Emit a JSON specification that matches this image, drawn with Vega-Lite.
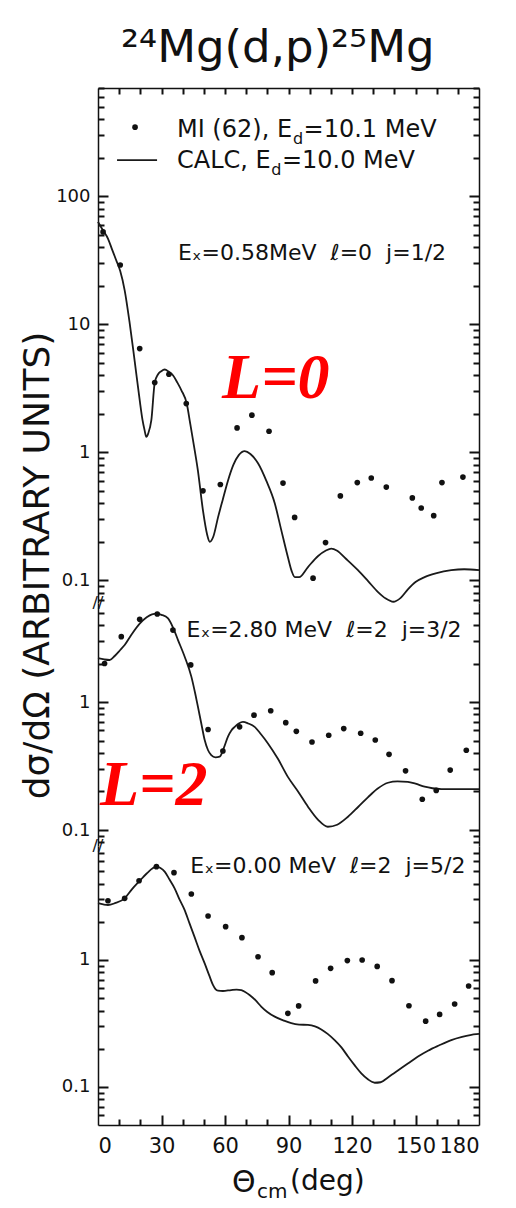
{
  "$schema": "https://vega.github.io/schema/vega-lite/v6.json",
  "padding": {"left": 18, "top": 26, "right": 10, "bottom": 10},
  "background": "white",
  "title": {"text": "²⁴Mg(d,p)²⁵Mg", "font": "DejaVu Sans", "fontSize": 45, "fontWeight": "normal", "color": "#111", "anchor": "middle", "baseline": "alphabetic", "offset": -20, "dx": 27},
  "config": {
    "view": {"stroke": null},
    "axis": {"domainColor": "#111", "domainWidth": 1.5, "labelFont": "DejaVu Sans", "labelColor": "#111", "grid": false}
  },
  "spacing": 0,
  "bounds": "flush",
  "datasets": {
    "c1": [
      {"a":0,"v":63},{"a":2.4,"v":54},{"a":4.7,"v":46.7},{"a":6.5,"v":39},{"a":8.6,"v":31.6},{"a":10.5,"v":26},{"a":12.6,"v":18.4},{"a":15,"v":10.1},{"a":17.3,"v":5.2},{"a":19.7,"v":2.55},{"a":21,"v":1.8},{"a":22,"v":1.49},{"a":22.8,"v":1.32},{"a":23.7,"v":1.4},{"a":25.2,"v":1.78},{"a":26.8,"v":3.5},{"a":28.3,"v":4.05},{"a":29.9,"v":4.3},{"a":31.5,"v":4.43},{"a":33.5,"v":4.25},{"a":35.4,"v":4.0},{"a":37.5,"v":3.5},{"a":39.4,"v":3.05},{"a":42,"v":2.37},{"a":43.5,"v":1.7},{"a":44.9,"v":1.24},{"a":47.2,"v":0.72},{"a":49.6,"v":0.35},{"a":51.5,"v":0.23},{"a":52.8,"v":0.2},{"a":54.5,"v":0.22},{"a":56.7,"v":0.31},{"a":59,"v":0.43},{"a":61.4,"v":0.6},{"a":64,"v":0.8},{"a":66.5,"v":0.95},{"a":69.3,"v":1.02},{"a":72,"v":0.97},{"a":75.6,"v":0.82},{"a":79.5,"v":0.6},{"a":83.5,"v":0.4},{"a":86.5,"v":0.25},{"a":89.7,"v":0.152},{"a":91.5,"v":0.118},{"a":93,"v":0.106},{"a":95,"v":0.106},{"a":99.2,"v":0.127},{"a":104,"v":0.155},{"a":107.5,"v":0.17},{"a":110.2,"v":0.177},{"a":113,"v":0.17},{"a":117,"v":0.148},{"a":122.8,"v":0.12},{"a":127.5,"v":0.099},{"a":132.3,"v":0.081},{"a":136,"v":0.072},{"a":139.5,"v":0.068},{"a":143,"v":0.073},{"a":146.4,"v":0.085},{"a":150,"v":0.097},{"a":154.3,"v":0.106},{"a":160,"v":0.114},{"a":166.9,"v":0.12},{"a":173,"v":0.122},{"a":180,"v":0.12}
    ],
    "p1": [
      {"a":2.4,"v":52.6},{"a":10.5,"v":29},{"a":19.7,"v":6.45},{"a":26.8,"v":3.5},{"a":33.5,"v":4.07},{"a":41.7,"v":2.4},{"a":49.6,"v":0.5},{"a":57.8,"v":0.56},{"a":65.7,"v":1.55},{"a":72.7,"v":1.95},{"a":80.8,"v":1.46},{"a":87.4,"v":0.575},{"a":92.9,"v":0.31},{"a":101.6,"v":0.104},{"a":107.5,"v":0.197},{"a":114.5,"v":0.456},{"a":122.5,"v":0.58},{"a":129.1,"v":0.63},{"a":136.2,"v":0.535},{"a":148.5,"v":0.44},{"a":152.7,"v":0.367},{"a":158.6,"v":0.32},{"a":162.5,"v":0.58},{"a":172.4,"v":0.64}
    ],
    "c2": [
      {"a":0,"v":2.2},{"a":3,"v":2.15},{"a":5.5,"v":2.13},{"a":8,"v":2.3},{"a":10.5,"v":2.55},{"a":12.6,"v":2.79},{"a":16,"v":3.4},{"a":19.7,"v":4.1},{"a":23,"v":4.6},{"a":25.5,"v":4.85},{"a":27.6,"v":4.9},{"a":30,"v":4.8},{"a":33.1,"v":4.5},{"a":35.5,"v":3.8},{"a":37.8,"v":3.05},{"a":41,"v":2.25},{"a":44.1,"v":1.58},{"a":46,"v":1.15},{"a":47.2,"v":0.92},{"a":48.8,"v":0.68},{"a":50.4,"v":0.505},{"a":52,"v":0.42},{"a":53.5,"v":0.385},{"a":55.5,"v":0.37},{"a":57.5,"v":0.374},{"a":59.5,"v":0.44},{"a":61.4,"v":0.537},{"a":63,"v":0.6},{"a":64.6,"v":0.64},{"a":66.5,"v":0.68},{"a":68.5,"v":0.7},{"a":71,"v":0.68},{"a":74,"v":0.64},{"a":77,"v":0.56},{"a":80.3,"v":0.475},{"a":85,"v":0.36},{"a":89.7,"v":0.26},{"a":94.5,"v":0.2},{"a":99.2,"v":0.152},{"a":104,"v":0.12},{"a":108.6,"v":0.106},{"a":113,"v":0.11},{"a":118.1,"v":0.127},{"a":123,"v":0.152},{"a":127.5,"v":0.18},{"a":132,"v":0.21},{"a":137,"v":0.234},{"a":141.5,"v":0.24},{"a":146.4,"v":0.238},{"a":150,"v":0.23},{"a":154.3,"v":0.218},{"a":158,"v":0.212},{"a":162.2,"v":0.209},{"a":170,"v":0.209},{"a":180,"v":0.209}
    ],
    "p2": [
      {"a":3.1,"v":2.0},{"a":11,"v":3.24},{"a":19.7,"v":4.43},{"a":28,"v":4.87},{"a":35.4,"v":3.65},{"a":43.8,"v":1.95},{"a":52,"v":0.61},{"a":59,"v":0.414},{"a":66.9,"v":0.64},{"a":73.7,"v":0.79},{"a":81.6,"v":0.855},{"a":88.7,"v":0.69},{"a":93.7,"v":0.59},{"a":101.1,"v":0.487},{"a":109,"v":0.55},{"a":116.1,"v":0.62},{"a":124.1,"v":0.57},{"a":131,"v":0.505},{"a":137.5,"v":0.39},{"a":145.3,"v":0.29},{"a":153.2,"v":0.174},{"a":159.8,"v":0.204},{"a":166.4,"v":0.294},{"a":174,"v":0.42}
    ],
    "c3": [
      {"a":0,"v":2.8},{"a":2.5,"v":2.74},{"a":4.7,"v":2.71},{"a":8,"v":2.8},{"a":12.6,"v":3.06},{"a":16,"v":3.6},{"a":19.7,"v":4.2},{"a":23,"v":4.8},{"a":26,"v":5.3},{"a":27.6,"v":5.45},{"a":29.5,"v":5.3},{"a":31.5,"v":4.96},{"a":33.8,"v":4.3},{"a":36.2,"v":3.67},{"a":38.5,"v":3.0},{"a":40.9,"v":2.48},{"a":43.2,"v":1.95},{"a":45.6,"v":1.52},{"a":48,"v":1.18},{"a":50.4,"v":0.94},{"a":52.5,"v":0.76},{"a":54.3,"v":0.636},{"a":55.5,"v":0.59},{"a":56.7,"v":0.573},{"a":59,"v":0.57},{"a":62.9,"v":0.58},{"a":65.5,"v":0.585},{"a":67.7,"v":0.58},{"a":69.5,"v":0.56},{"a":71.6,"v":0.53},{"a":74.5,"v":0.48},{"a":77.1,"v":0.43},{"a":80,"v":0.39},{"a":83.5,"v":0.358},{"a":87.5,"v":0.335},{"a":91.3,"v":0.318},{"a":95,"v":0.31},{"a":99.2,"v":0.308},{"a":102.5,"v":0.3},{"a":105.5,"v":0.284},{"a":108.5,"v":0.262},{"a":111.8,"v":0.234},{"a":115,"v":0.205},{"a":118.1,"v":0.174},{"a":121.3,"v":0.148},{"a":124.4,"v":0.128},{"a":127.5,"v":0.115},{"a":130.7,"v":0.108},{"a":133.5,"v":0.109},{"a":137,"v":0.119},{"a":141.5,"v":0.134},{"a":146.4,"v":0.153},{"a":151,"v":0.173},{"a":155.9,"v":0.193},{"a":161,"v":0.212},{"a":166.9,"v":0.234},{"a":172,"v":0.248},{"a":178.7,"v":0.261},{"a":180,"v":0.262}
    ],
    "p3": [
      {"a":4.7,"v":2.93},{"a":12.6,"v":3.06},{"a":19.4,"v":4.21},{"a":27.6,"v":5.43},{"a":35.9,"v":4.87},{"a":44.1,"v":3.31},{"a":52,"v":2.22},{"a":60.3,"v":1.83},{"a":68,"v":1.5},{"a":75.6,"v":1.06},{"a":82.3,"v":0.795},{"a":89.7,"v":0.38},{"a":94.8,"v":0.435},{"a":102.8,"v":0.684},{"a":109.9,"v":0.86},{"a":117.8,"v":0.99},{"a":124.8,"v":1.0},{"a":131.9,"v":0.89},{"a":138.9,"v":0.687},{"a":146.9,"v":0.436},{"a":154.8,"v":0.33},{"a":161.4,"v":0.373},{"a":168.5,"v":0.45},{"a":175.1,"v":0.624}
    ]
  },
  "vconcat": [
    {
      "width": 381,
      "height": 515,
      "layer": [
        {
          "data": {"name": "c1"},
          "mark": {"type": "line", "interpolate": "monotone", "color": "#1a1a1a", "strokeWidth": 1.8},
          "encoding": {
            "x": {"field": "a", "type": "quantitative", "scale": {"domain": [0, 180], "nice": false, "zero": false},
                  "axis": {"orient": "top", "labels": false, "ticks": false, "title": null}},
            "y": {"field": "v", "type": "quantitative", "scale": {"type": "log", "domain": [0.0665, 700], "nice": false},
                  "axis": {"orient": "left", "values": [0.1, 1, 10, 100], "ticks": false,
                           "labelExpr": "datum.value == 100 ? '100' : datum.value == 10 ? '10' : datum.value == 1 ? '1' : '0.1'",
                           "labelPadding": 8, "labelFontSize": 18,
                           "title": "dσ/dΩ (ARBITRARY UNITS)", "titleFont": "DejaVu Sans", "titleFontSize": 36, "titleFontWeight": "normal", "titleColor": "#111",
                           "titleX": -50, "titleY": 477, "titleBaseline": "alphabetic", "titleAngle": 270, "titleAlign": "center"}}
          }
        },
        {
          "data": {"name": "p1"},
          "mark": {"type": "circle", "color": "#111", "size": 32, "opacity": 1},
          "encoding": {
            "x": {"field": "a", "type": "quantitative", "scale": {"domain": [0, 180], "nice": false, "zero": false}, "axis": null},
            "y": {"field": "v", "type": "quantitative", "scale": {"type": "log", "domain": [0.0665, 700], "nice": false},
                  "axis": {"orient": "right", "labels": false, "ticks": false, "title": null}}
          }
        },
        {
          "data": {"values": [{}]},
          "mark": {"type": "text", "text": " "},
          "encoding": {
            "x": {"datum": 90, "type": "quantitative", "scale": {"domain": [0, 180], "nice": false, "zero": false},
                  "axis": {"orient": "top", "offset": -6, "tickSize": 6, "ticks": true, "tickColor": "#111", "tickWidth": 2, "domain": false, "labels": false, "title": null, "values": [10,20,30,40,50,60,70,80,90,100,110,120,130,140,150,160,170]}},
            "y": {"datum": 1, "type": "quantitative", "scale": {"type": "log", "domain": [0.0665, 700], "nice": false},
                  "axis": {"orient": "left", "offset": -10, "tickSize": 10, "ticks": true, "tickColor": "#111", "tickWidth": 2, "domain": false, "labels": false, "title": null, "values": [0.1, 1, 10, 100]}}
          }
        },
        {
          "data": {"values": [{}]},
          "mark": {"type": "text", "text": " "},
          "encoding": {
            "x": {"datum": 90, "type": "quantitative", "scale": {"domain": [0, 180], "nice": false, "zero": false}, "axis": null},
            "y": {"datum": 1, "type": "quantitative", "scale": {"type": "log", "domain": [0.0665, 700], "nice": false},
                  "axis": {"orient": "left", "offset": -6, "tickSize": 6, "ticks": true, "tickColor": "#111", "tickWidth": 2, "domain": false, "labels": false, "title": null, "values": [0.07,0.08,0.09,0.2,0.3,0.4,0.5,0.6,0.7,0.8,0.9,2,3,4,5,6,7,8,9,20,30,40,50,60,70,80,90,200,300,400,500,600,700]}}
          }
        },
        {
          "data": {"values": [{}]},
          "mark": {"type": "text", "text": " "},
          "encoding": {
            "x": {"datum": 90, "type": "quantitative", "scale": {"domain": [0, 180], "nice": false, "zero": false}, "axis": null},
            "y": {"datum": 1, "type": "quantitative", "scale": {"type": "log", "domain": [0.0665, 700], "nice": false},
                  "axis": {"orient": "right", "offset": -10, "tickSize": 10, "ticks": true, "tickColor": "#111", "tickWidth": 2, "domain": false, "labels": false, "title": null, "values": [0.1, 1, 10, 100]}}
          }
        },
        {
          "data": {"values": [{}]},
          "mark": {"type": "text", "text": " "},
          "encoding": {
            "x": {"datum": 90, "type": "quantitative", "scale": {"domain": [0, 180], "nice": false, "zero": false}, "axis": null},
            "y": {"datum": 1, "type": "quantitative", "scale": {"type": "log", "domain": [0.0665, 700], "nice": false},
                  "axis": {"orient": "right", "offset": -6, "tickSize": 6, "ticks": true, "tickColor": "#111", "tickWidth": 2, "domain": false, "labels": false, "title": null, "values": [0.07,0.08,0.09,0.2,0.3,0.4,0.5,0.6,0.7,0.8,0.9,2,3,4,5,6,7,8,9,20,30,40,50,60,70,80,90,200,300,400,500,600,700]}}
          }
        },
        {
          "data": {"values": [{}]},
          "mark": {"type": "circle", "color": "#111", "size": 32, "opacity": 1},
          "encoding": {
            "x": {"datum": 17.5, "type": "quantitative", "scale": {"domain": [0, 180], "nice": false, "zero": false}, "axis": null},
            "y": {"datum": 346, "type": "quantitative", "scale": {"type": "log", "domain": [0.0665, 700], "nice": false}, "axis": null}
          }
        },
        {
          "data": {"values": [{}]},
          "mark": {"type": "rule", "color": "#1a1a1a", "strokeWidth": 1.8},
          "encoding": {
            "x": {"datum": 9.0, "type": "quantitative", "scale": {"domain": [0, 180], "nice": false, "zero": false}, "axis": null},
            "x2": {"datum": 27.9},
            "y": {"datum": 191, "type": "quantitative", "scale": {"type": "log", "domain": [0.0665, 700], "nice": false}, "axis": null}
          }
        },
        {
          "data": {"values": [{}]},
          "mark": {"type": "text", "text": "MI (62), E", "align": "left", "baseline": "alphabetic", "font": "DejaVu Sans", "fontSize": 24, "color": "#111"},
          "encoding": {
            "x": {"datum": 37.3, "type": "quantitative", "scale": {"domain": [0, 180], "nice": false, "zero": false}, "axis": null},
            "y": {"datum": 289, "type": "quantitative", "scale": {"type": "log", "domain": [0.0665, 700], "nice": false}, "axis": null}
          }
        },
        {
          "data": {"values": [{}]},
          "mark": {"type": "text", "text": "d", "align": "left", "baseline": "alphabetic", "font": "DejaVu Sans", "fontSize": 16, "color": "#111"},
          "encoding": {
            "x": {"datum": 92.1, "type": "quantitative", "scale": {"domain": [0, 180], "nice": false, "zero": false}, "axis": null},
            "y": {"datum": 255, "type": "quantitative", "scale": {"type": "log", "domain": [0.0665, 700], "nice": false}, "axis": null}
          }
        },
        {
          "data": {"values": [{}]},
          "mark": {"type": "text", "text": "=10.1 MeV", "align": "left", "baseline": "alphabetic", "font": "DejaVu Sans", "fontSize": 24, "color": "#111"},
          "encoding": {
            "x": {"datum": 97.1, "type": "quantitative", "scale": {"domain": [0, 180], "nice": false, "zero": false}, "axis": null},
            "y": {"datum": 289, "type": "quantitative", "scale": {"type": "log", "domain": [0.0665, 700], "nice": false}, "axis": null}
          }
        },
        {
          "data": {"values": [{}]},
          "mark": {"type": "text", "text": "CALC, E", "align": "left", "baseline": "alphabetic", "font": "DejaVu Sans", "fontSize": 24, "color": "#111"},
          "encoding": {
            "x": {"datum": 37.3, "type": "quantitative", "scale": {"domain": [0, 180], "nice": false, "zero": false}, "axis": null},
            "y": {"datum": 165, "type": "quantitative", "scale": {"type": "log", "domain": [0.0665, 700], "nice": false}, "axis": null}
          }
        },
        {
          "data": {"values": [{}]},
          "mark": {"type": "text", "text": "d", "align": "left", "baseline": "alphabetic", "font": "DejaVu Sans", "fontSize": 16, "color": "#111"},
          "encoding": {
            "x": {"datum": 81.9, "type": "quantitative", "scale": {"domain": [0, 180], "nice": false, "zero": false}, "axis": null},
            "y": {"datum": 146, "type": "quantitative", "scale": {"type": "log", "domain": [0.0665, 700], "nice": false}, "axis": null}
          }
        },
        {
          "data": {"values": [{}]},
          "mark": {"type": "text", "text": "=10.0 MeV", "align": "left", "baseline": "alphabetic", "font": "DejaVu Sans", "fontSize": 24, "color": "#111"},
          "encoding": {
            "x": {"datum": 86.9, "type": "quantitative", "scale": {"domain": [0, 180], "nice": false, "zero": false}, "axis": null},
            "y": {"datum": 165, "type": "quantitative", "scale": {"type": "log", "domain": [0.0665, 700], "nice": false}, "axis": null}
          }
        },
        {
          "data": {"values": [{}]},
          "mark": {"type": "text", "text": "Eₓ=0.58MeV\u00a0\u00a0ℓ=0\u00a0\u00a0j=1/2", "align": "center", "baseline": "alphabetic", "font": "DejaVu Sans", "fontSize": 22, "color": "#111"},
          "encoding": {
            "x": {"datum": 101.1, "type": "quantitative", "scale": {"domain": [0, 180], "nice": false, "zero": false}, "axis": null},
            "y": {"datum": 31.6, "type": "quantitative", "scale": {"type": "log", "domain": [0.0665, 700], "nice": false}, "axis": null}
          }
        },
        {
          "data": {"values": [{}]},
          "mark": {"type": "text", "text": "L=0", "align": "left", "baseline": "alphabetic", "font": "Liberation Serif", "fontStyle": "italic", "fontWeight": "bold", "fontSize": 64, "color": "#ff0000"},
          "encoding": {
            "x": {"datum": 58.6, "type": "quantitative", "scale": {"domain": [0, 180], "nice": false, "zero": false}, "axis": null},
            "y": {"datum": 2.64, "type": "quantitative", "scale": {"type": "log", "domain": [0.0665, 700], "nice": false}, "axis": null}
          }
        }
      ],
      "resolve": {"axis": {"x": "independent", "y": "independent"}}
    },
    {
      "width": 381,
      "height": 243,
      "layer": [
        {
          "data": {"name": "c2"},
          "mark": {"type": "line", "interpolate": "monotone", "color": "#1a1a1a", "strokeWidth": 1.8},
          "encoding": {
            "x": {"field": "a", "type": "quantitative", "scale": {"domain": [0, 180], "nice": false, "zero": false}, "axis": null},
            "y": {"field": "v", "type": "quantitative", "scale": {"type": "log", "domain": [0.075, 5.94], "nice": false},
                  "axis": {"orient": "left", "values": [0.1, 1], "ticks": false,
                           "labelExpr": "datum.value == 1 ? '1' : '0.1'",
                           "labelPadding": 8, "labelFontSize": 18, "title": null}}
          }
        },
        {
          "data": {"name": "p2"},
          "mark": {"type": "circle", "color": "#111", "size": 32, "opacity": 1},
          "encoding": {
            "x": {"field": "a", "type": "quantitative", "scale": {"domain": [0, 180], "nice": false, "zero": false}, "axis": null},
            "y": {"field": "v", "type": "quantitative", "scale": {"type": "log", "domain": [0.075, 5.94], "nice": false},
                  "axis": {"orient": "right", "labels": false, "ticks": false, "title": null}}
          }
        },
        {
          "data": {"values": [{}]},
          "mark": {"type": "text", "text": " "},
          "encoding": {
            "x": {"datum": 90, "type": "quantitative", "scale": {"domain": [0, 180], "nice": false, "zero": false}, "axis": null},
            "y": {"datum": 1, "type": "quantitative", "scale": {"type": "log", "domain": [0.075, 5.94], "nice": false},
                  "axis": {"orient": "left", "offset": -10, "tickSize": 10, "ticks": true, "tickColor": "#111", "tickWidth": 2, "domain": false, "labels": false, "title": null, "values": [0.1, 1]}}
          }
        },
        {
          "data": {"values": [{}]},
          "mark": {"type": "text", "text": " "},
          "encoding": {
            "x": {"datum": 90, "type": "quantitative", "scale": {"domain": [0, 180], "nice": false, "zero": false}, "axis": null},
            "y": {"datum": 1, "type": "quantitative", "scale": {"type": "log", "domain": [0.075, 5.94], "nice": false},
                  "axis": {"orient": "left", "offset": -6, "tickSize": 6, "ticks": true, "tickColor": "#111", "tickWidth": 2, "domain": false, "labels": false, "title": null, "values": [0.08,0.09,0.2,0.3,0.4,0.5,0.6,0.7,0.8,0.9,2,3,4,5]}}
          }
        },
        {
          "data": {"values": [{}]},
          "mark": {"type": "text", "text": " "},
          "encoding": {
            "x": {"datum": 90, "type": "quantitative", "scale": {"domain": [0, 180], "nice": false, "zero": false}, "axis": null},
            "y": {"datum": 1, "type": "quantitative", "scale": {"type": "log", "domain": [0.075, 5.94], "nice": false},
                  "axis": {"orient": "right", "offset": -10, "tickSize": 10, "ticks": true, "tickColor": "#111", "tickWidth": 2, "domain": false, "labels": false, "title": null, "values": [0.1, 1]}}
          }
        },
        {
          "data": {"values": [{}]},
          "mark": {"type": "text", "text": " "},
          "encoding": {
            "x": {"datum": 90, "type": "quantitative", "scale": {"domain": [0, 180], "nice": false, "zero": false}, "axis": null},
            "y": {"datum": 1, "type": "quantitative", "scale": {"type": "log", "domain": [0.075, 5.94], "nice": false},
                  "axis": {"orient": "right", "offset": -6, "tickSize": 6, "ticks": true, "tickColor": "#111", "tickWidth": 2, "domain": false, "labels": false, "title": null, "values": [0.08,0.09,0.2,0.3,0.4,0.5,0.6,0.7,0.8,0.9,2,3,4,5]}}
          }
        },
        {
          "data": {"values": [{}]},
          "mark": {"type": "text", "text": "Eₓ=2.80 MeV\u00a0\u00a0ℓ=2\u00a0\u00a0j=3/2", "align": "center", "baseline": "alphabetic", "font": "DejaVu Sans", "fontSize": 22, "color": "#111"},
          "encoding": {
            "x": {"datum": 106.8, "type": "quantitative", "scale": {"domain": [0, 180], "nice": false, "zero": false}, "axis": null},
            "y": {"datum": 3.22, "type": "quantitative", "scale": {"type": "log", "domain": [0.075, 5.94], "nice": false}, "axis": null}
          }
        },
        {
          "data": {"values": [{}]},
          "mark": {"type": "text", "text": "L=2", "align": "left", "baseline": "alphabetic", "font": "Liberation Serif", "fontStyle": "italic", "fontWeight": "bold", "fontSize": 64, "color": "#ff0000"},
          "encoding": {
            "x": {"datum": 0.9, "type": "quantitative", "scale": {"domain": [0, 180], "nice": false, "zero": false}, "axis": null},
            "y": {"datum": 0.157, "type": "quantitative", "scale": {"type": "log", "domain": [0.075, 5.94], "nice": false}, "axis": null}
          }
        },
        {
          "data": {"values": [{}]},
          "mark": {"type": "text", "text": "//", "align": "center", "baseline": "middle", "font": "DejaVu Sans", "fontSize": 16, "color": "#111"},
          "encoding": {
            "x": {"datum": 0, "type": "quantitative", "scale": {"domain": [0, 180], "nice": false, "zero": false}, "axis": null},
            "y": {"datum": 5.94, "type": "quantitative", "scale": {"type": "log", "domain": [0.075, 5.94], "nice": false}, "axis": null}
          }
        }
      ],
      "resolve": {"axis": {"x": "independent", "y": "independent"}}
    },
    {
      "width": 381,
      "height": 279,
      "layer": [
        {
          "data": {"name": "c3"},
          "mark": {"type": "line", "interpolate": "monotone", "color": "#1a1a1a", "strokeWidth": 1.8},
          "encoding": {
            "x": {"field": "a", "type": "quantitative", "scale": {"domain": [0, 180], "nice": false, "zero": false},
                  "axis": {"orient": "bottom", "title": null, "values": [0,30,60,90,120,150,180], "ticks": false,
                           "labelPadding": 10, "labelFontSize": 21}},
            "y": {"field": "v", "type": "quantitative", "scale": {"type": "log", "domain": [0.0502, 7.9], "nice": false},
                  "axis": {"orient": "left", "values": [0.1, 1], "ticks": false,
                           "labelExpr": "datum.value == 1 ? '1' : '0.1'",
                           "labelPadding": 8, "labelFontSize": 18, "title": null}}
          }
        },
        {
          "data": {"name": "p3"},
          "mark": {"type": "circle", "color": "#111", "size": 32, "opacity": 1},
          "encoding": {
            "x": {"field": "a", "type": "quantitative", "scale": {"domain": [0, 180], "nice": false, "zero": false}, "axis": null},
            "y": {"field": "v", "type": "quantitative", "scale": {"type": "log", "domain": [0.0502, 7.9], "nice": false},
                  "axis": {"orient": "right", "labels": false, "ticks": false, "title": null}}
          }
        },
        {
          "data": {"values": [{}]},
          "mark": {"type": "text", "text": " "},
          "encoding": {
            "x": {"datum": 90, "type": "quantitative", "scale": {"domain": [0, 180], "nice": false, "zero": false},
                  "axis": {"orient": "bottom", "offset": -10, "tickSize": 10, "ticks": true, "tickColor": "#111", "tickWidth": 2, "domain": false, "labels": false, "title": null, "values": [30,60,90,120,150]}},
            "y": {"datum": 1, "type": "quantitative", "scale": {"type": "log", "domain": [0.0502, 7.9], "nice": false},
                  "axis": {"orient": "left", "offset": -10, "tickSize": 10, "ticks": true, "tickColor": "#111", "tickWidth": 2, "domain": false, "labels": false, "title": null, "values": [0.1, 1]}}
          }
        },
        {
          "data": {"values": [{}]},
          "mark": {"type": "text", "text": " "},
          "encoding": {
            "x": {"datum": 90, "type": "quantitative", "scale": {"domain": [0, 180], "nice": false, "zero": false},
                  "axis": {"orient": "bottom", "offset": -6, "tickSize": 6, "ticks": true, "tickColor": "#111", "tickWidth": 2, "domain": false, "labels": false, "title": null, "values": [10,20,40,50,70,80,100,110,130,140,160,170]}},
            "y": {"datum": 1, "type": "quantitative", "scale": {"type": "log", "domain": [0.0502, 7.9], "nice": false},
                  "axis": {"orient": "left", "offset": -6, "tickSize": 6, "ticks": true, "tickColor": "#111", "tickWidth": 2, "domain": false, "labels": false, "title": null, "values": [0.06,0.07,0.08,0.09,0.2,0.3,0.4,0.5,0.6,0.7,0.8,0.9,2,3,4,5,6,7]}}
          }
        },
        {
          "data": {"values": [{}]},
          "mark": {"type": "text", "text": " "},
          "encoding": {
            "x": {"datum": 90, "type": "quantitative", "scale": {"domain": [0, 180], "nice": false, "zero": false}, "axis": null},
            "y": {"datum": 1, "type": "quantitative", "scale": {"type": "log", "domain": [0.0502, 7.9], "nice": false},
                  "axis": {"orient": "right", "offset": -10, "tickSize": 10, "ticks": true, "tickColor": "#111", "tickWidth": 2, "domain": false, "labels": false, "title": null, "values": [0.1, 1]}}
          }
        },
        {
          "data": {"values": [{}]},
          "mark": {"type": "text", "text": " "},
          "encoding": {
            "x": {"datum": 90, "type": "quantitative", "scale": {"domain": [0, 180], "nice": false, "zero": false}, "axis": null},
            "y": {"datum": 1, "type": "quantitative", "scale": {"type": "log", "domain": [0.0502, 7.9], "nice": false},
                  "axis": {"orient": "right", "offset": -6, "tickSize": 6, "ticks": true, "tickColor": "#111", "tickWidth": 2, "domain": false, "labels": false, "title": null, "values": [0.06,0.07,0.08,0.09,0.2,0.3,0.4,0.5,0.6,0.7,0.8,0.9,2,3,4,5,6,7]}}
          }
        },
        {
          "data": {"values": [{}]},
          "mark": {"type": "text", "text": "Eₓ=0.00 MeV\u00a0\u00a0ℓ=2\u00a0\u00a0j=5/2", "align": "center", "baseline": "alphabetic", "font": "DejaVu Sans", "fontSize": 22, "color": "#111"},
          "encoding": {
            "x": {"datum": 108.6, "type": "quantitative", "scale": {"domain": [0, 180], "nice": false, "zero": false}, "axis": null},
            "y": {"datum": 4.84, "type": "quantitative", "scale": {"type": "log", "domain": [0.0502, 7.9], "nice": false}, "axis": null}
          }
        },
        {
          "data": {"values": [{}]},
          "mark": {"type": "text", "text": "//", "align": "center", "baseline": "middle", "font": "DejaVu Sans", "fontSize": 16, "color": "#111"},
          "encoding": {
            "x": {"datum": 0, "type": "quantitative", "scale": {"domain": [0, 180], "nice": false, "zero": false}, "axis": null},
            "y": {"datum": 7.9, "type": "quantitative", "scale": {"type": "log", "domain": [0.0502, 7.9], "nice": false}, "axis": null}
          }
        },
        {
          "data": {"values": [{}]},
          "mark": {"type": "text", "text": "Θ", "align": "left", "baseline": "alphabetic", "font": "DejaVu Sans", "fontSize": 30, "color": "#111"},
          "encoding": {
            "x": {"datum": 63.3, "type": "quantitative", "scale": {"domain": [0, 180], "nice": false, "zero": false}, "axis": null},
            "y": {"datum": 0.0149, "type": "quantitative", "scale": {"type": "log", "domain": [0.0502, 7.9], "nice": false}, "axis": null}
          }
        },
        {
          "data": {"values": [{}]},
          "mark": {"type": "text", "text": "cm", "align": "left", "baseline": "alphabetic", "font": "DejaVu Sans", "fontSize": 20, "color": "#111"},
          "encoding": {
            "x": {"datum": 75.1, "type": "quantitative", "scale": {"domain": [0, 180], "nice": false, "zero": false}, "axis": null},
            "y": {"datum": 0.01336, "type": "quantitative", "scale": {"type": "log", "domain": [0.0502, 7.9], "nice": false}, "axis": null}
          }
        },
        {
          "data": {"values": [{}]},
          "mark": {"type": "text", "text": "(deg)", "align": "left", "baseline": "alphabetic", "font": "DejaVu Sans", "fontSize": 28, "color": "#111"},
          "encoding": {
            "x": {"datum": 90.7, "type": "quantitative", "scale": {"domain": [0, 180], "nice": false, "zero": false}, "axis": null},
            "y": {"datum": 0.01545, "type": "quantitative", "scale": {"type": "log", "domain": [0.0502, 7.9], "nice": false}, "axis": null}
          }
        }
      ],
      "resolve": {"axis": {"x": "independent", "y": "independent"}}
    }
  ]
}
